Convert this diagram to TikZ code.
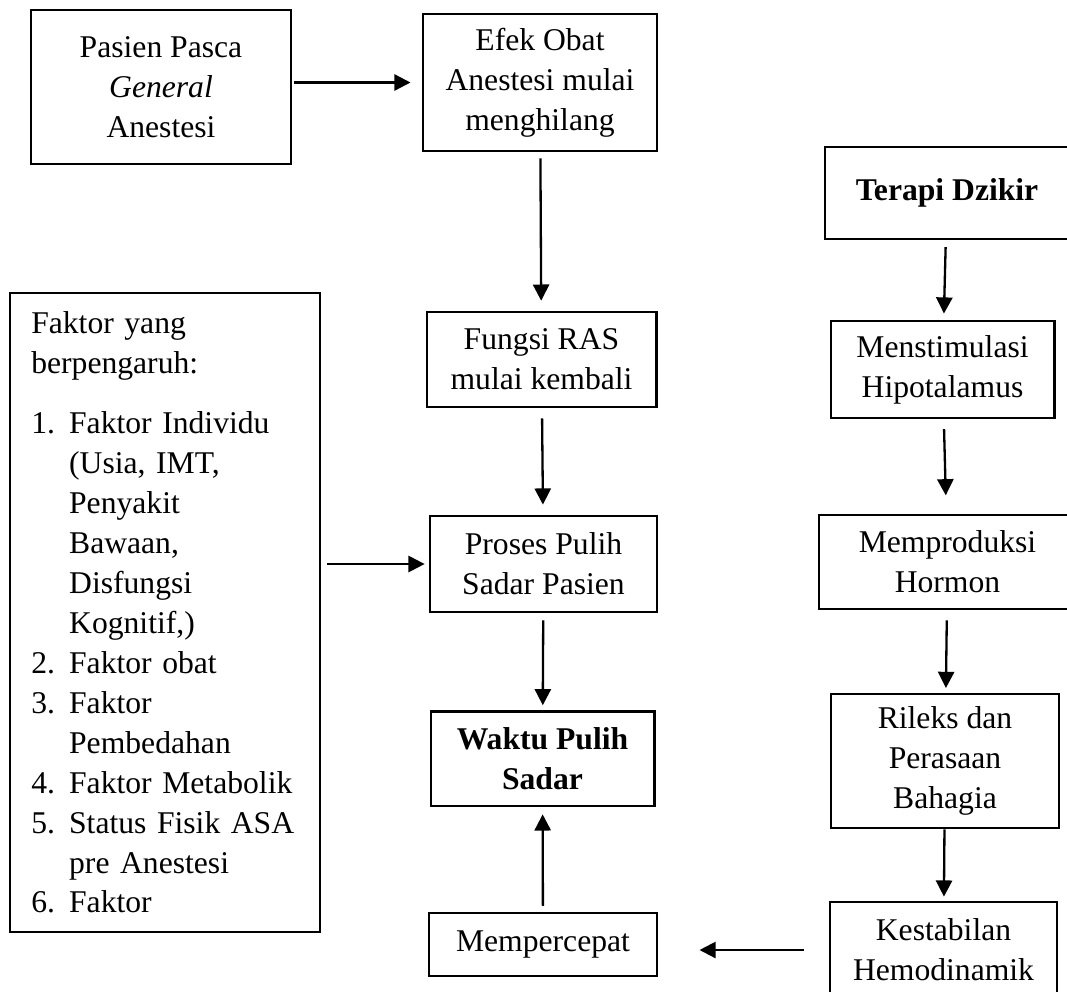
\documentclass[tikz,border=0pt]{standalone}
\usepackage{fontspec}
\setmainfont{Liberation Serif}
\usetikzlibrary{arrows.meta}
\tikzset{
  >={Triangle[length=7pt,width=7pt]},
  % kotak
  bx/.style={draw=black,line width=1.25pt,inner sep=2pt,align=center},
  lst/.style={draw=black,line width=1.25pt,inner xsep=9.2pt,inner ysep=0pt,
              text width=115.8pt,align=left},
  % panah
  ar/.style={->,draw=black,line width=1pt},
}
\newcommand{\nr}[1]{\makebox[16.4pt][l]{#1}}

\begin{document}
\begin{tikzpicture}[x=0.433pt,y=-0.433pt,every node/.append style={font=\fontsize{13.7}{17.3}\selectfont}]
  \useasboundingbox (0,0) rectangle (1067,991);
  \node[bx,minimum width=112.6pt,minimum height=66.7pt] (ps) at (161,87) {Pasien Pasca\\ \textit{General}\\ Anestesi};
  \node[bx,minimum width=101.3pt,minimum height=59.3pt] (eo) at (540,82.5) {Efek Obat\\ Anestesi mulai\\ menghilang};
  \node[bx,minimum width=99.2pt,minimum height=41.1pt] (ras) at (541.5,359.5) {Fungsi RAS\\ mulai kembali};
  \node[bx,minimum width=98.3pt,minimum height=41.6pt] (pp) at (543.5,564) {Proses Pulih\\ Sadar Pasien};
  \node[bx,minimum width=96.6pt,minimum height=41.1pt] (wp) at (542.5,758.5) {\textbf{Waktu Pulih}\\ \textbf{Sadar}};
  \node[bx,minimum width=98.7pt,minimum height=27.3pt] (mp) at (543,944.5) {Mempercepat};
  \node[bx,minimum width=98.3pt,minimum height=41.6pt] (kh) at (943.5,950) {Kestabilan\\ Hemodinamik};
  \node[bx,minimum width=105.7pt,minimum height=39.8pt] (td) at (947,193) {\textbf{Terapi Dzikir}};
  \node[bx,minimum width=96.6pt,minimum height=42pt] (mh) at (942.5,369.5) {Menstimulasi\\ Hipotalamus};
  \node[bx,minimum width=111.3pt,minimum height=40.7pt] (ho) at (947.5,562) {Memproduksi\\ Hormon};
  \node[bx,minimum width=98.7pt,minimum height=58pt] (rb) at (945,761) {Rileks dan\\ Perasaan\\ Bahagia};
  \node[lst,minimum height=276.7pt] (fk) at (165,612.5) {Faktor yang\\ berpengaruh:\\[8.7pt]
    \nr{1.}Faktor Individu\\ \nr{}(Usia, IMT,\\ \nr{}Penyakit\\ \nr{}Bawaan,\\ \nr{}Disfungsi\\ \nr{}Kognitif,)\\
    \nr{2.}Faktor obat\\ \nr{3.}Faktor\\ \nr{}Pembedahan\\ \nr{4.}Faktor Metabolik\\
    \nr{5.}Status Fisik ASA\\ \nr{}pre Anestesi\\ \nr{6.}Faktor};
  % alur kiri
  \draw[ar,shorten <=0.5pt,shorten >=4.8pt] (eo.west -| ps.east) -- (eo.west);
  \draw[ar,shorten <=2.6pt,shorten >=4.3pt] (eo) -- (ras);
  \draw[ar,shorten <=4.3pt,shorten >=4.3pt] (ras) -- (pp);
  \draw[ar,shorten <=3pt,shorten >=1.9pt] (pp) -- (wp);
  \draw[ar,shorten <=2.5pt,shorten >=3pt] (mp) -- (wp);
  \draw[ar,shorten <=2.6pt,shorten >=1.7pt] (fk.east |- pp.west) -- (pp.west);
  % alur kanan
  \draw[ar,shorten <=2.9pt,shorten >=2.6pt] (td) -- (mh);
  \draw[ar,shorten <=4.2pt,shorten >=7.9pt] (mh) -- (ho);
  \draw[ar,shorten <=4.3pt,shorten >=2pt] (ho) -- (rb);
  \draw[ar,shorten >=1.7pt] (rb) -- (kh);
  \draw[ar,shorten <=10.8pt,shorten >=17.8pt] (kh.west) -- (kh.west -| mp.east);
\end{tikzpicture}
\end{document}
